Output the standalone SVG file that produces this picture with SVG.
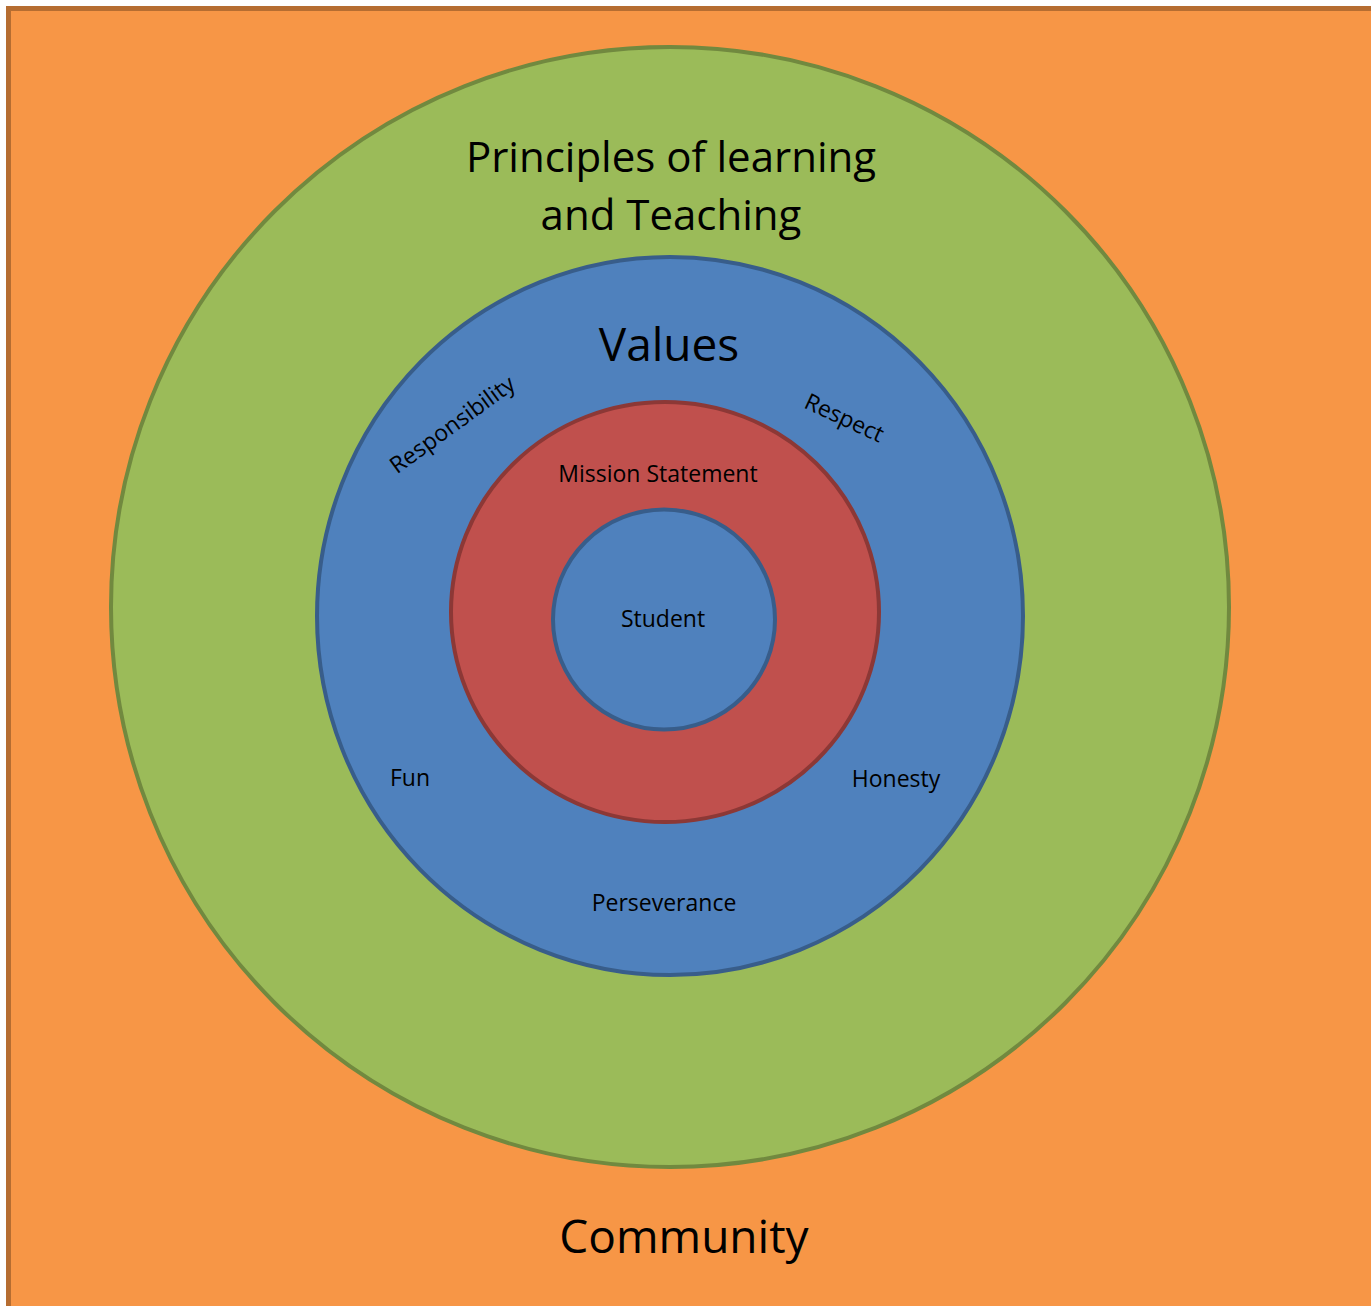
<svg xmlns="http://www.w3.org/2000/svg" width="1371" height="1306" viewBox="0 0 1371 1306">
<style>
text{font-family:"Open Sans","Liberation Sans",sans-serif;fill:#000;text-anchor:middle}
.big{font-size:42px}
.sm{font-size:23px}
</style>
<rect width="1371" height="1306" fill="#ffffff"/>
<g id="community">
<rect x="8.5" y="8.5" width="1372" height="1310" fill="#F79646" stroke="#B66D31" stroke-width="5"/>
<text class="big" x="684" y="1253" style="font-size:46px">Community</text>
</g>
<g id="principles">
<ellipse cx="670" cy="607" rx="559" ry="560" fill="#9BBB59" stroke="#71893F" stroke-width="4"/>
<text class="big" x="671" y="172">Principles of learning</text>
<text class="big" x="671" y="230">and Teaching</text>
</g>
<g id="values">
<ellipse cx="670" cy="616" rx="353" ry="359" fill="#4F81BD" stroke="#385D8A" stroke-width="4"/>
<text class="big" x="669" y="361" style="font-size:46px">Values</text>
<text class="sm" transform="translate(457,431) rotate(-36)">Responsibility</text>
<text class="sm" transform="translate(841,425) rotate(25)">Respect</text>
<text class="sm" x="410" y="786">Fun</text>
<text class="sm" x="896" y="787">Honesty</text>
<text class="sm" x="664" y="911">Perseverance</text>
</g>
<g id="mission">
<ellipse cx="665" cy="612" rx="214" ry="210" fill="#C0504D" stroke="#8C3836" stroke-width="4"/>
<text class="sm" x="658" y="482">Mission Statement</text>
</g>
<g id="student">
<ellipse cx="664" cy="619.5" rx="111" ry="110" fill="#4F81BD" stroke="#385D8A" stroke-width="4"/>
<text class="sm" x="663" y="627">Student</text>
</g>
<g id="connectors"></g>
</svg>
